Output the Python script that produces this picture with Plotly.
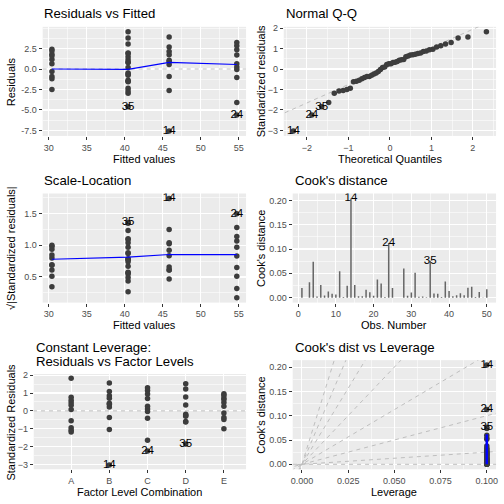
import numpy as np
import plotly.graph_objects as go
from statistics import NormalDist

# ---------------- data ----------------
groups = ["A", "B", "C", "D", "E"]
group_fitted = [40.45, 45.85, 54.75, 40.45, 30.43]
obs_per_group = 10
std_resid = [
    -0.94, 0.07, -1.19, 1.82, 0.32, -1.08, 0.45, 0.76, 0.60, -0.55,   # A
    1.56, 0.22, -1.05, -3.03, 1.08, -0.37, 0.37, 0.85, 0.70, 0.43,    # B
    1.30, 1.14, 0.26, -2.25, 0.94, 0.10, -0.03, -1.64, -0.42, 0.69,   # C
    1.52, -0.30, 0.33, -0.19, -1.85, -0.62, -0.60, -0.24, 1.22, 0.78, # D
    -0.37, 0.47, 0.64, -0.48, 0.96, -1.00, 0.26, 0.72, -0.12, 0.88,   # E
]
sigma = 2.63
leverage_value = 0.1
n_coef = 5
label_ids = [14, 24, 35]

smooth_x = [30.43, 40.45, 45.85, 54.75]
rvf_smooth_y = [0.0, -0.05, 0.80, 0.55]
sl_smooth_y = [0.78, 0.815, 0.855, 0.852]
lev_smooth_y = [0.0, 0.062]
contour_slopes = [0, 0.25, 1, 2.25, 4, 6.25, 9, 12.25]

# ---------------- derived diagnostics ----------------
r = np.array(std_resid)
n = len(r)
obs = np.arange(1, n + 1)
grp_pos = np.repeat(np.arange(1, len(groups) + 1), obs_per_group)
fitted = np.repeat(group_fitted, obs_per_group)
h = np.full(n, leverage_value)
resid = r * sigma * np.sqrt(1 - h)
sqrt_abs = np.sqrt(np.abs(r))
cooks = r ** 2 / n_coef * h / (1 - h)
order = np.argsort(r)
nd = NormalDist()
theo = np.array([nd.inv_cdf((i - 0.5) / n) for i in range(1, n + 1)])
r_sorted = r[order]
q1, q3 = np.quantile(r, [0.25, 0.75])
z1, z3 = nd.inv_cdf(0.25), nd.inv_cdf(0.75)
qq_slope = (q3 - q1) / (z3 - z1)
qq_int = q1 - qq_slope * z1
theo_of_obs = np.empty(n)
theo_of_obs[order] = theo
lab_idx = [i - 1 for i in label_ids]


def expand(lo, hi, f=0.05):
    d = (hi - lo) * f
    return [lo - d, hi + d]


# ---------------- layout helpers ----------------
W = H = 504
FONT = "Liberation Sans, Arial, sans-serif"
PT = "#3d3d3d"
GRID = "white"
DASH = "#BEBEBE"


def px_x(p):
    return p / W


def px_y(p):
    return 1 - p / H


boxes = {
    1: (41, 246, 23, 133),
    2: (284, 498, 23, 133),
    3: (41, 246, 191, 301),
    4: (293, 498, 191, 301),
    5: (32, 246, 373, 469),
    6: (293, 498, 359, 469),
}

fig = go.Figure()


def axname(i, which):
    return which if i == 1 else f"{which}{i}"


def add(i, trace):
    trace.update(xaxis=axname(i, "x"), yaxis=axname(i, "y"))
    fig.add_trace(trace)


def pts(i, x, y):
    add(i, go.Scatter(x=x, y=y, mode="markers", marker=dict(color=PT, size=5.5),
                      hoverinfo="skip", showlegend=False))


def labels(i, x, y, txt):
    add(i, go.Scatter(x=x, y=y, mode="text", text=txt,
                      textfont=dict(family=FONT, size=11.5, color="black"),
                      textposition="middle center", hoverinfo="skip", showlegend=False))


def line(i, x, y, color, width=1, dash=None):
    add(i, go.Scatter(x=x, y=y, mode="lines",
                      line=dict(color=color, width=width, dash=dash),
                      hoverinfo="skip", showlegend=False))


dash_pat = "4px,4px"
lab_txt = [str(k) for k in label_ids]

# Panel 1: Residuals vs Fitted
xr1 = expand(fitted.min(), fitted.max())
yr1 = expand(resid.min(), resid.max())
line(1, xr1, [0, 0], DASH, 1, dash_pat)
pts(1, fitted, resid)
line(1, smooth_x, rvf_smooth_y, "#0000FF", 1.2)
labels(1, fitted[lab_idx], resid[lab_idx], lab_txt)

# Panel 2: Normal Q-Q
xr2 = expand(theo.min(), theo.max())
yr2 = expand(r.min(), r.max())
line(2, [-5, 5], [qq_int - 5 * qq_slope, qq_int + 5 * qq_slope], DASH, 1, dash_pat)
pts(2, theo, r_sorted)
labels(2, theo_of_obs[lab_idx], r[lab_idx], lab_txt)

# Panel 3: Scale-Location
yr3 = expand(sqrt_abs.min(), sqrt_abs.max())
pts(3, fitted, sqrt_abs)
line(3, smooth_x, sl_smooth_y, "#0000FF", 1.2)
labels(3, fitted[lab_idx], sqrt_abs[lab_idx], lab_txt)

# Panel 4: Cook's distance
bx, by = [], []
for o, c in zip(obs, cooks):
    bx += [o, o, None]
    by += [0, c, None]
line(4, bx, by, "#666666", 1.5)
xr4 = expand(1, n)
yr4 = expand(0, cooks.max())
labels(4, obs[lab_idx], cooks[lab_idx], lab_txt)

# Panel 5: Residuals vs Factor Levels
line(5, [0, 6], [0, 0], DASH, 1, dash_pat)
pts(5, grp_pos, r)
labels(5, grp_pos[lab_idx], r[lab_idx], lab_txt)
yr5 = expand(r.min(), r.max())

# Panel 6: Cook's dist vs Leverage
xr6 = expand(0, leverage_value)
yr6 = expand(0, cooks.max())
for s in contour_slopes:
    line(6, [-1, 1], [-s, s], DASH, 1, dash_pat)
pts(6, h, cooks)
line(6, [leverage_value, leverage_value], lev_smooth_y, "#0000FF", 2.5)
labels(6, h[lab_idx], cooks[lab_idx], lab_txt)

# ---------------- axes ----------------
tickfont = dict(family=FONT, size=9, color="#4D4D4D")


def axis(i, which, rng, tickvals, ticktext=None, minor_vals=None):
    x0, x1, y0, y1 = boxes[i]
    if which == "x":
        dom = [px_x(x0), px_x(x1)]
        anchor = axname(i, "y")
    else:
        dom = [px_y(y1), px_y(y0)]
        anchor = axname(i, "x")
    d = dict(domain=dom, anchor=anchor, range=rng, showline=False, zeroline=False,
             showgrid=True, gridcolor=GRID, gridwidth=1.1,
             ticks="outside", ticklen=3, tickwidth=1, tickcolor="#333333",
             tickfont=tickfont, tickmode="array", tickvals=tickvals,
             fixedrange=True)
    if ticktext is not None:
        d["ticktext"] = ticktext
    if minor_vals is not None:
        d["minor"] = dict(tickmode="array", tickvals=minor_vals, showgrid=True,
                          gridcolor=GRID, gridwidth=0.55, ticks="")
    key = ("xaxis" if which == "x" else "yaxis") + ("" if i == 1 else str(i))
    fig.layout[key] = d


fit_ticks = [30, 35, 40, 45, 50, 55]
fit_minor = [27.5, 32.5, 37.5, 42.5, 47.5, 52.5, 57.5]
axis(1, "x", xr1, fit_ticks, minor_vals=fit_minor)
axis(1, "y", yr1, [-7.5, -5, -2.5, 0, 2.5], ["-7.5", "-5.0", "-2.5", "0.0", "2.5"],
     [-8.75, -6.25, -3.75, -1.25, 1.25, 3.75, 5])
axis(2, "x", xr2, [-2, -1, 0, 1, 2], minor_vals=[-2.5, -1.5, -0.5, 0.5, 1.5, 2.5])
axis(2, "y", yr2, [-3, -2, -1, 0, 1, 2], minor_vals=[-3.5, -2.5, -1.5, -0.5, 0.5, 1.5])
axis(3, "x", xr1, fit_ticks, minor_vals=fit_minor)
axis(3, "y", yr3, [0.5, 1.0, 1.5], ["0.5", "1.0", "1.5"], [0.25, 0.75, 1.25, 1.75])
axis(4, "x", xr4, [0, 10, 20, 30, 40, 50], minor_vals=[5, 15, 25, 35, 45])
axis(4, "y", yr4, [0, 0.05, 0.10, 0.15, 0.20], ["0.00", "0.05", "0.10", "0.15", "0.20"],
     [0.025, 0.075, 0.125, 0.175])
axis(5, "x", [0.02, 5.58], [1, 2, 3, 4, 5], groups)
axis(5, "y", yr5, [-3, -2, -1, 0, 1, 2], minor_vals=[-2.5, -1.5, -0.5, 0.5, 1.5])
axis(6, "x", xr6, [0, 0.025, 0.05, 0.075, 0.1], ["0.000", "0.025", "0.050", "0.075", "0.100"],
     [0.0125, 0.0375, 0.0625, 0.0875])
axis(6, "y", yr6, [0, 0.05, 0.10, 0.15, 0.20], ["0.00", "0.05", "0.10", "0.15", "0.20"],
     [0.025, 0.075, 0.125, 0.175])

# ---------------- titles ----------------
ann = []


def text(x, y, s, size, angle=0, xanchor="center"):
    ann.append(dict(x=px_x(x), y=px_y(y), xref="paper", yref="paper", text=s,
                    showarrow=False, textangle=angle, xanchor=xanchor, yanchor="middle",
                    font=dict(family=FONT, size=size, color="black")))


TS = 13.2
text(40, 10, "Residuals vs Fitted", TS, xanchor="left")
text(284, 10, "Normal Q-Q", TS, xanchor="left")
text(40, 178, "Scale-Location", TS, xanchor="left")
text(293, 178, "Cook's distance", TS, xanchor="left")
text(32, 346, "Constant Leverage:", TS, xanchor="left")
text(32, 360, "Residuals vs Factor Levels", TS, xanchor="left")
text(293, 346, "Cook's dist vs Leverage", TS, xanchor="left")

AS = 11
text(143.5, 156, "Fitted values", AS)
text(391, 156, "Theoretical Quantiles", AS)
text(143.5, 324, "Fitted values", AS)
text(395.5, 324, "Obs. Number", AS)
text(139, 492, "Factor Level Combination", AS)
text(395.5, 492, "Leverage", AS)
text(9, 78, "Residuals", AS, -90)
text(261, 78, "Standardized residuals", AS, -90)
text(9, 246, "√|Standardized residuals|", AS, -90)
text(261, 246, "Cook's distance", AS, -90)
text(9, 421, "Standardized Residuals", AS, -90)
text(261, 414, "Cook's distance", AS, -90)

fig.update_layout(width=W, height=H, margin=dict(l=0, r=0, t=0, b=0),
                  paper_bgcolor="white", plot_bgcolor="#EBEBEB",
                  showlegend=False, annotations=ann, hovermode=False,
                  font=dict(family=FONT))
fig.write_html("out.html", config={"displayModeBar": False, "staticPlot": True},
               post_script="document.body.style.margin='0';"
                           "document.body.style.overflow='hidden';")
